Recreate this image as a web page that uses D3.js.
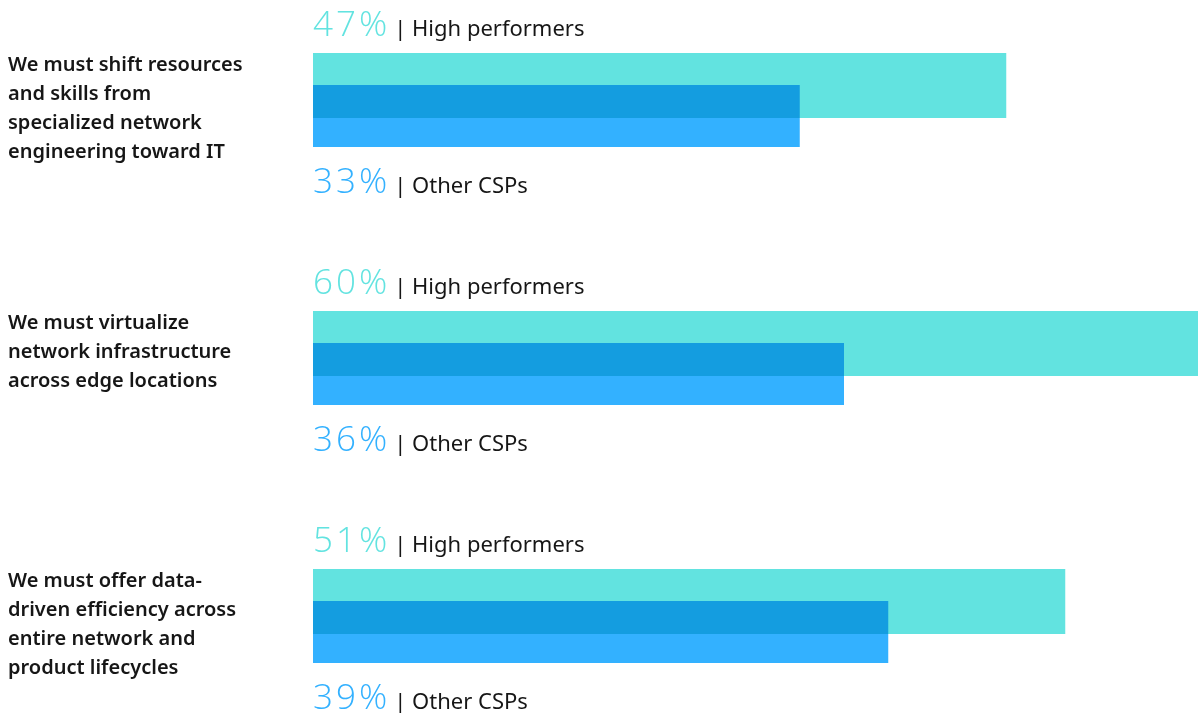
<!DOCTYPE html>
<html>
<head>
<meta charset="utf-8">
<script src="https://cdn.jsdelivr.net/npm/d3@7"></script>
<style>
  body { margin: 0; background: #fff; }
  svg { display: block; }
  .blend { mix-blend-mode: multiply; }
</style>
</head>
<body>
<div id="chart"></div>
<script>
// statements shown on the left
const statements = [
  ["We must shift resources", "and skills from", "specialized network", "engineering toward IT"],
  ["We must virtualize", "network infrastructure", "across edge locations"],
  ["We must offer data-", "driven efficiency across", "entire network and", "product lifecycles"]
];
const highPerformers = [47, 60, 51];
const otherCSPs = [33, 36, 39];
const seriesNames = ["High performers", "Other CSPs"];

const width = 1199, height = 713;
const groupStep = 258;
const firstTop = 53;

const x = d3.scaleLinear().domain([0, 60]).range([313, 1198]);
const y = d3.scaleLinear().domain([0, 1]).range([firstTop, firstTop + groupStep]);

const svg = d3.select("#chart").append("svg")
    .attr("width", width)
    .attr("height", height);

const groups = svg.selectAll("g.grp")
  .data(statements.map((s, i) => ({s, hi: highPerformers[i], oth: otherCSPs[i], i})))
  .join("g")
    .attr("class", "grp")
    .attr("transform", d => "translate(0," + y(d.i) + ")");

// left labels
groups.append("text")
    .attr("x", 8)
    .attr("y", 18)
    .style("font-family", "'Noto Sans', sans-serif")
    .style("font-weight", 600)
    .style("font-size", "20px")
    .attr("fill", "#161616")
  .selectAll("tspan")
  .data(d => d.s)
  .join("tspan")
    .attr("x", 8)
    .attr("dy", (d, j) => j == 0 ? 0 : 29)
    .text(d => d);

// bars
groups.append("rect")
    .attr("x", x(0))
    .attr("y", 0)
    .attr("width", d => x(d.hi) - x(0))
    .attr("height", 65)
    .attr("fill", "#62e3e0");

groups.append("rect")
    .attr("class", "blend")
    .attr("x", x(0))
    .attr("y", 32)
    .attr("width", d => x(d.oth) - x(0))
    .attr("height", 62)
    .attr("fill", "#33b1ff");

// value labels
function valueLabel(sel, key, name, color, yy) {
  const t = sel.append("text")
      .attr("x", x(0))
      .attr("y", yy);
  t.append("tspan")
      .style("font-family", "'Open Sans', sans-serif")
      .style("font-weight", 300)
      .style("font-size", "35px")
      .style("letter-spacing", "3px")
      .attr("fill", color)
      .text(d => d[key] + "%");
  t.append("tspan")
      .attr("dx", 4)
      .style("font-family", "'Noto Sans', sans-serif")
      .style("font-size", "22px")
      .attr("fill", "#161616")
      .text("| " + name);
}
valueLabel(groups, "hi", seriesNames[0], "#62e3e0", -17);
valueLabel(groups, "oth", seriesNames[1], "#33b1ff", 140);
</script>
</body>
</html>
